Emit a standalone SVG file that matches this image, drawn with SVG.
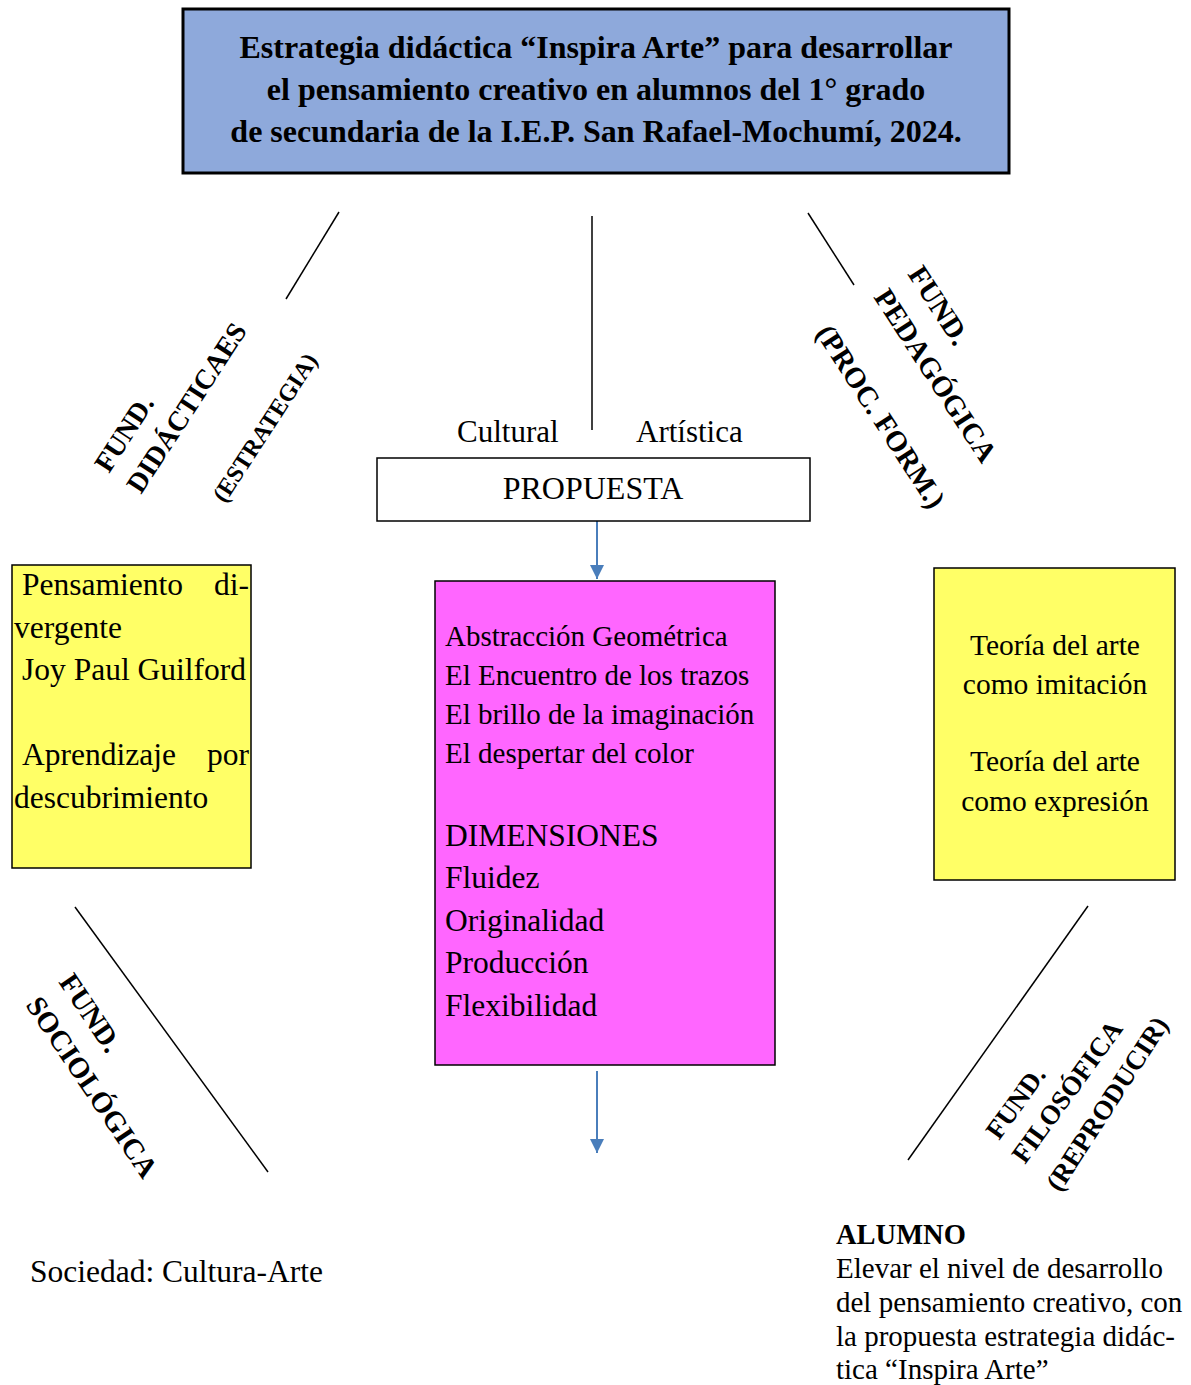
<svg xmlns="http://www.w3.org/2000/svg" width="1191" height="1385" viewBox="0 0 1191 1385">
<style>
text{font-family:"Liberation Serif","Times New Roman",serif;fill:#000}
.b{font-weight:bold}
.ln{stroke:#000;stroke-width:1.5;fill:none}
.ar{stroke:#4A7EBB;stroke-width:2;fill:none}
.box{stroke:#000;stroke-width:1.5}
</style>
<defs>
<marker id="ah" markerWidth="14" markerHeight="14" refX="14" refY="7" orient="auto" markerUnits="userSpaceOnUse" viewBox="0 0 14 14">
<path d="M0,0 L14,7 L0,14 z" fill="#4A7EBB"/>
</marker>
</defs>
<rect width="1191" height="1385" fill="#fff"/>

<g id="title">
<rect x="183" y="9" width="826" height="164" fill="#8EA9DB" stroke="#000" stroke-width="3"/>
<text class="b" x="596" y="58" font-size="32" text-anchor="middle">Estrategia didáctica “Inspira Arte” para desarrollar</text>
<text class="b" x="596" y="100" font-size="32" text-anchor="middle">el pensamiento creativo en alumnos del 1° grado</text>
<text class="b" x="596" y="142" font-size="32" text-anchor="middle">de secundaria de la I.E.P. San Rafael-Mochumí, 2024.</text>
</g>

<g id="connectors">
<line class="ln" x1="339" y1="212" x2="286" y2="299"/>
<line class="ln" x1="592" y1="216" x2="592" y2="430"/>
<line class="ln" x1="808" y1="213" x2="854" y2="285"/>
<line class="ln" x1="75" y1="907" x2="268" y2="1172"/>
<line class="ln" x1="1088" y1="906" x2="908" y2="1160"/>
<line class="ar" x1="597" y1="521" x2="597" y2="579" marker-end="url(#ah)"/>
<line class="ar" x1="597" y1="1071" x2="597" y2="1153" marker-end="url(#ah)"/>
</g>

<g id="fund-didacticas">
<text class="b" font-size="28" transform="translate(109,474) rotate(-57)">FUND.</text>
<text class="b" font-size="28" transform="translate(141,495) rotate(-57)">DIDÁCTICAES</text>
<text class="b" font-size="24" transform="translate(225,504) rotate(-57)">(ESTRATEGIA)</text>
</g>

<g id="fund-pedagogica">
<text class="b" font-size="29" transform="translate(907,274) rotate(57)">FUND.</text>
<text class="b" font-size="29" transform="translate(873,297) rotate(57)">PEDAGÓGICA</text>
<text class="b" font-size="29" transform="translate(815,333) rotate(57)">(PROC. FORM.)</text>
</g>

<g id="fund-sociologica">
<text class="b" font-size="29" transform="translate(58,982) rotate(56)">FUND.</text>
<text class="b" font-size="29" transform="translate(25,1005) rotate(56)">SOCIOLÓGICA</text>
</g>

<g id="fund-filosofica">
<text class="b" font-size="27" transform="translate(999,1141) rotate(-54)">FUND.</text>
<text class="b" font-size="27" transform="translate(1025,1165) rotate(-54)">FILOSÓFICA</text>
<text class="b" font-size="27" transform="translate(1060,1193) rotate(-57)">(REPRODUCIR)</text>
</g>

<g id="propuesta">
<text x="457" y="442" font-size="31">Cultural</text>
<text x="636" y="442" font-size="31">Artística</text>
<rect class="box" x="377" y="458" width="433" height="63" fill="#fff"/>
<text x="593" y="499" font-size="32" text-anchor="middle">PROPUESTA</text>
</g>

<g id="centro">
<rect class="box" x="435" y="581" width="340" height="484" fill="#FF66FF"/>
<text x="445" y="646" font-size="29">Abstracción Geométrica</text>
<text x="445" y="685" font-size="29">El Encuentro de los trazos</text>
<text x="445" y="724" font-size="29">El brillo de la imaginación</text>
<text x="445" y="763" font-size="29">El despertar del color</text>
<text x="445" y="846" font-size="31.5">DIMENSIONES</text>
<text x="445" y="888" font-size="31.5">Fluidez</text>
<text x="445" y="931" font-size="31.5">Originalidad</text>
<text x="445" y="973" font-size="31.5">Producción</text>
<text x="445" y="1016" font-size="31.5">Flexibilidad</text>
</g>

<g id="izquierda">
<rect class="box" x="12" y="565" width="239" height="303" fill="#FFFF66"/>
<text x="22" y="595" font-size="31.5">Pensamiento</text>
<text x="249" y="595" font-size="31.5" text-anchor="end">di-</text>
<text x="14" y="638" font-size="31.5">vergente</text>
<text x="22" y="680" font-size="31.5">Joy Paul Guilford</text>
<text x="22" y="765" font-size="31.5">Aprendizaje</text>
<text x="249" y="765" font-size="31.5" text-anchor="end">por</text>
<text x="14" y="808" font-size="31.5">descubrimiento</text>
</g>

<g id="derecha">
<rect class="box" x="934" y="568" width="241" height="312" fill="#FFFF66"/>
<text x="1055" y="655" font-size="29.5" text-anchor="middle">Teoría del arte</text>
<text x="1055" y="694" font-size="29.5" text-anchor="middle">como imitación</text>
<text x="1055" y="771" font-size="29.5" text-anchor="middle">Teoría del arte</text>
<text x="1055" y="811" font-size="29.5" text-anchor="middle">como expresión</text>
</g>

<g id="sociedad">
<text x="30" y="1282" font-size="31.5">Sociedad: Cultura-Arte</text>
</g>

<g id="alumno">
<text class="b" x="836" y="1244" font-size="28.5">ALUMNO</text>
<text x="836" y="1278" font-size="29">Elevar el nivel de desarrollo</text>
<text x="836" y="1312" font-size="29">del pensamiento creativo, con</text>
<text x="836" y="1346" font-size="29">la propuesta estrategia didác-</text>
<text x="836" y="1379" font-size="29">tica “Inspira Arte”</text>
</g>
</svg>
